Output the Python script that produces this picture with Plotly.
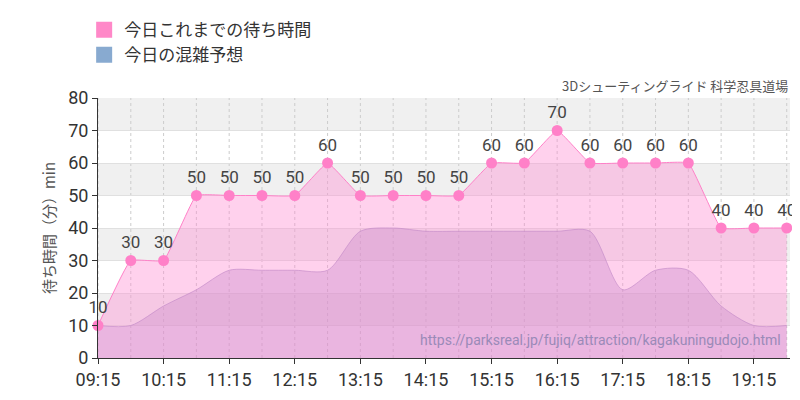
import plotly.graph_objects as go

times = ["09:15", "09:45", "10:15", "10:45", "11:15", "11:45", "12:15", "12:45",
         "13:15", "13:45", "14:15", "14:45", "15:15", "15:45", "16:15", "16:45",
         "17:15", "17:45", "18:15", "18:45", "19:15", "19:45"]
wait_today = [10, 30, 30, 50, 50, 50, 50, 60, 50, 50, 50, 50, 60, 60, 70, 60,
              60, 60, 60, 40, 40, 40]
forecast = [10, 10, 16, 21, 27, 27, 27, 27, 39, 40, 39, 39, 39, 39, 39, 39,
            21, 27, 27, 16, 10, 10]
tick_labels = ["09:15", "10:15", "11:15", "12:15", "13:15", "14:15", "15:15",
               "16:15", "17:15", "18:15", "19:15"]

x = ["2024-01-01 " + t for t in times]
tickvals = ["2024-01-01 " + t for t in tick_labels]
FONT = "Liberation Sans Narrow, Roboto, sans-serif"

fig = go.Figure()

fig.add_trace(go.Scatter(
    x=x, y=forecast, mode="lines", showlegend=False,
    line=dict(color="rgba(150,130,190,0.6)", width=1, shape="spline", smoothing=0.8),
    fill="tozeroy", fillcolor="rgba(170,140,200,0.4)",
))
fig.add_trace(go.Scatter(
    x=x, y=wait_today, mode="lines+markers+text", showlegend=False, cliponaxis=False,
    line=dict(color="#ff80c8", width=1, shape="spline", smoothing=0.3),
    marker=dict(color="#ff80c8", size=11),
    fill="tozeroy", fillcolor="rgba(255,140,210,0.4)",
    text=[str(v) for v in wait_today], textposition="top center",
    textfont=dict(size=17, color="#444", family=FONT),
))

# alternating grey bands
for y0 in (10, 30, 50, 70):
    fig.add_shape(type="rect", xref="paper", x0=0, x1=1, y0=y0, y1=y0 + 10,
                  fillcolor="#f0f0f0", line_width=0, layer="below")

fig.add_trace(go.Scatter(x=[None], y=[None], mode="markers", name="今日これまでの待ち時間",
                         marker=dict(symbol="square", size=22, color="#ff88c8")))
fig.add_trace(go.Scatter(x=[None], y=[None], mode="markers", name="今日の混雑予想",
                         marker=dict(symbol="square", size=22, color="#88aad0")))

fig.add_annotation(text="3Dシューティングライド 科学忍具道場", xref="paper", yref="paper",
                   x=1, y=1.005, xanchor="right", yanchor="bottom", showarrow=False,
                   font=dict(size=13, color="#555", family="Noto Sans CJK JP"))
fig.add_annotation(text="https://parksreal.jp/fujiq/attraction/kagakuningudojo.html",
                   xref="paper", yref="paper", x=0.99, y=0.03, xanchor="right",
                   yanchor="bottom", showarrow=False,
                   font=dict(size=14, color="#9a8ab8", family="Roboto"))

fig.update_layout(
    width=800, height=400, plot_bgcolor="white", paper_bgcolor="white",
    margin=dict(l=90, r=18, t=90, b=50, autoexpand=False),
    legend=dict(x=-0.02, y=1.33, xanchor="left", yanchor="top",
                font=dict(size=17, family="Noto Sans CJK JP", color="#333"),
                itemsizing="trace", tracegroupgap=0),
    font=dict(family=FONT),
)
fig.update_xaxes(
    type="date", range=["2024-01-01 09:15", "2024-01-01 19:48"],
    tickvals=tickvals, ticktext=tick_labels, tickfont=dict(size=18, color="#333"),
    showgrid=False, showline=True, linecolor="#333", ticks="outside",
    ticklen=5, tickcolor="#333",
)
for t in x:
    fig.add_shape(type="line", x0=t, x1=t, yref="paper", y0=0, y1=1,
                  line=dict(color="#ccc", width=1, dash="dot"), layer="below")
fig.update_yaxes(
    range=[0, 80], dtick=10, tickfont=dict(size=18, color="#333"),
    showgrid=True, gridcolor="#e0e0e0", zeroline=False,
    showline=True, linecolor="#333", ticks="outside", tickcolor="#333",
    title=dict(text="待ち時間（分）min", font=dict(size=15, color="#555",
               family="Noto Sans CJK JP"), standoff=8),
)

fig.write_html("out.html")
